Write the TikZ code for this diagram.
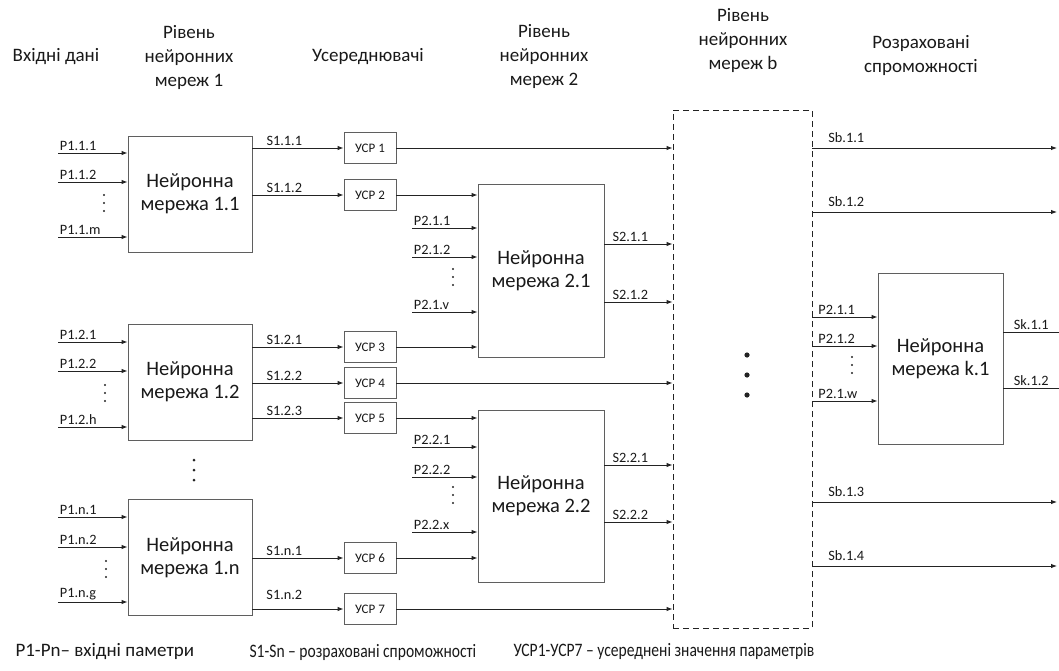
\documentclass[tikz,border=0pt]{standalone}
\usepackage{fontspec}
\setmainfont{Carlito}
\newfontfamily\condfont[FakeStretch=0.82]{Carlito}
\usetikzlibrary{arrows.meta}
\definecolor{linegray}{RGB}{35,35,35}
\definecolor{boxgray}{RGB}{95,95,95}
\definecolor{txtgray}{RGB}{25,25,25}

\begin{document}
\begin{tikzpicture}[x=1pt, y=-1pt,
  head/.style={align=center, text=txtgray, font=\fontsize{19}{24}\selectfont},
  legend/.style={anchor=west, text=txtgray, font=\condfont\fontsize{19}{24}\selectfont},
  net/.style={draw=boxgray, line width=0.9pt, align=center, text=txtgray,
    minimum width=124pt, minimum height=116pt, font=\fontsize{20.5}{23}\selectfont},
  usr/.style={draw=boxgray, line width=0.9pt, minimum width=52pt, minimum height=31pt,
    inner sep=0pt, text=txtgray, font=\fontsize{13}{15}\selectfont},
  lbl/.style={text=txtgray, inner sep=1.5pt, font=\fontsize{14.3}{16}\selectfont},
  arr/.style={draw=linegray, line width=0.9pt, -{Latex[length=6pt,width=4.5pt]}},
  ln/.style={draw=linegray, line width=0.9pt},
]

\useasboundingbox (0,0) rectangle (1059,671);

% Headings
\node[head] (h0) at (56,57) {Вхідні дані};
\node[head] (h1) at (189,57) {Рівень\\нейронних\\мереж 1};
\node[head] (h2) at (368,57) {Усереднювачі};
\node[head] (h3) at (544,56) {Рівень\\нейронних\\мереж 2};
\node[head] (h4) at (743,40) {Рівень\\нейронних\\мереж b};
\node[head] (h5) at (921,55) {Розраховані\\спроможності};

% Level 1 networks
\node[net] (n11) at (190,194) {Нейронна\\мережа 1.1};
\node[net] (n12) at (190,382) {Нейронна\\мережа 1.2};
\node[net] (n1n) at (190,557.5) {Нейронна\\мережа 1.n};

% Averagers
\node[usr] (u1) at (370,148) {УСР 1};
\node[usr] (u2) at (370,195) {УСР 2};
\node[usr] (u3) at (370,347) {УСР 3};
\node[usr] (u4) at (370,383) {УСР 4};
\node[usr] (u5) at (370,418) {УСР 5};
\node[usr] (u6) at (370,558) {УСР 6};
\node[usr] (u7) at (370,609) {УСР 7};

% Level 2 networks
\node[net, minimum width=126pt, minimum height=173pt] (n21) at (541,270.5) {Нейронна\\мережа 2.1};
\node[net, minimum width=126pt, minimum height=172pt] (n22) at (541,496) {Нейронна\\мережа 2.2};

% Level b (dashed)
\node[draw=linegray, line width=0.9pt, dash pattern=on 6pt off 4pt,
  minimum width=139pt, minimum height=518pt] (lb) at (742.5,369) {};
\foreach \y in {355,375,395}
  \fill[linegray] (747,\y) circle (2.6);

% Level k network
\node[net, minimum width=125pt, minimum height=171pt] (nk1) at (940.5,358.5) {Нейронна\\мережа k.1};

% Inputs of level 1
\foreach \y/\t [count=\i] in {153/P1.1.1, 182/P1.1.2, 237/P1.1.m} {
  \coordinate (a\i) at (58,\y);
  \draw[arr] (a\i) node[lbl, anchor=south west] {\t} -- (a\i -| n11.west);
}
\foreach \y/\t [count=\i] in {342/P1.2.1, 371/P1.2.2, 427/P1.2.h} {
  \coordinate (b\i) at (58,\y);
  \draw[arr] (b\i) node[lbl, anchor=south west] {\t} -- (b\i -| n12.west);
}
\foreach \y/\t [count=\i] in {517/P1.n.1, 547/P1.n.2, 602/P1.n.g} {
  \coordinate (c\i) at (58,\y);
  \draw[arr] (c\i) node[lbl, anchor=south west] {\t} -- (c\i -| n1n.west);
}

% Dots
\foreach \x/\y in {104/203, 105/393, 106/569, 453/277, 453/495, 852/365}
  \foreach \d in {-8,0,8}
    \fill[linegray] (\x,\y+\d) circle (1.2);
\foreach \d in {-10,0,10}
  \fill[linegray] (194,470+\d) circle (1.5);

% Level 1 to averagers
\draw[arr] (n11.east |- u1) -- node[lbl, above, pos=0.35] {S1.1.1} (u1);
\draw[arr] (n11.east |- u2) -- node[lbl, above, pos=0.35] {S1.1.2} (u2);
\draw[arr] (n12.east |- u3) -- node[lbl, above, pos=0.35] {S1.2.1} (u3);
\draw[arr] (n12.east |- u4) -- node[lbl, above, pos=0.35] {S1.2.2} (u4);
\draw[arr] (n12.east |- u5) -- node[lbl, above, pos=0.35] {S1.2.3} (u5);
\draw[arr] (n1n.east |- u6) -- node[lbl, above, pos=0.35] {S1.n.1} (u6);
\draw[arr] (n1n.east |- u7) -- node[lbl, above, pos=0.35, yshift=7pt] {S1.n.2} (u7);

% Averagers onwards
\draw[arr] (u1) -- (u1 -| lb.west);
\draw[arr] (u2) -- (u2 -| n21.west);
\draw[arr] (u3) -- (u3 -| n21.west);
\draw[arr] (u4) -- (u4 -| lb.west);
\draw[arr] (u5) -- (u5 -| n22.west);
\draw[arr] (u6) -- (u6 -| n22.west);
\draw[arr] (u7) -- (u7 -| lb.west);

% Inputs of level 2
\foreach \y/\t [count=\i] in {228/P2.1.1, 257/P2.1.2, 312/P2.1.v} {
  \coordinate (d\i) at (412,\y);
  \draw[arr] (d\i) node[lbl, anchor=south west] {\t} -- (d\i -| n21.west);
}
\foreach \y/\t [count=\i] in {447/P2.2.1, 477/P2.2.2, 532/P2.2.x} {
  \coordinate (e\i) at (412,\y);
  \draw[arr] (e\i) node[lbl, anchor=south west] {\t} -- (e\i -| n22.west);
}

% Outputs of level 2
\foreach \y/\t/\n [count=\i] in {244/S2.1.1/n21, 302/S2.1.2/n21, 465/S2.2.1/n22, 522/S2.2.2/n22} {
  \coordinate (f\i) at (673,\y);
  \draw[arr] (\n.east |- f\i) -- node[lbl, above, pos=0.38] {\t} (f\i -| lb.west);
}

% Outputs of level b
\foreach \y/\t [count=\i] in {148/Sb.1.1, 212/Sb.1.2, 502/Sb.1.3, 566/Sb.1.4} {
  \coordinate (g\i) at (1057,\y);
  \draw[arr] (lb.east |- g\i) node[lbl, anchor=south west, xshift=14pt, yshift=3pt] {\t} -- (g\i);
}

% Inputs of level k
\foreach \y/\t [count=\i] in {317/P2.1.1, 346/P2.1.2, 401/P2.1.w} {
  \coordinate (k\i) at (878,\y);
  \draw[arr] (lb.east |- k\i) node[lbl, anchor=south west, xshift=4pt] {\t} -- (k\i -| nk1.west);
}

% Outputs of level k
\foreach \y/\t [count=\i] in {332/Sk.1.1, 388/Sk.1.2} {
  \coordinate (m\i) at (1059,\y);
  \draw[ln] (nk1.east |- m\i) -- node[lbl, above] {\t} (m\i);
}

% Legend
\node[head, anchor=west] (l1) at (12,652) {P1-Pn– вхідні паметри};
\node[legend] (l2) at (246,652) {S1-Sn – розраховані спроможності};
\node[legend] (l3) at (510,652) {УСР1-УСР7 – усереднені значення параметрів};

\end{tikzpicture}
\end{document}
